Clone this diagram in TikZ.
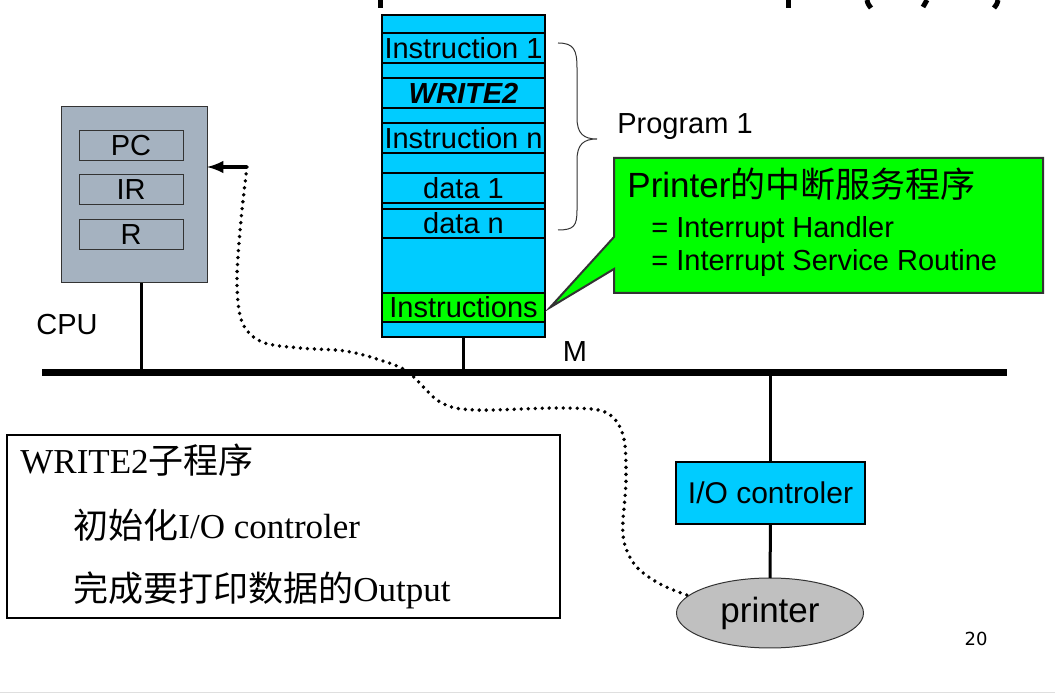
\documentclass[tikz,border=0pt]{standalone}
\usepackage{fontspec}
\setmainfont{Liberation Serif}
\setsansfont{Liberation Sans}
\newfontfamily\cjk{Noto Sans CJK SC}
\newfontfamily\pagefont{DejaVu Sans}
\usetikzlibrary{shapes.geometric,arrows,positioning}
\definecolor{memblue}{RGB}{0,204,255}
\definecolor{isrgreen}{RGB}{0,255,0}
\definecolor{cpugray}{RGB}{165,178,192}
\definecolor{devgray}{RGB}{192,192,192}
\definecolor{edgegray}{RGB}{51,51,51}
\tikzset{
    cell/.style={
        draw,
        fill=memblue,
        line width=0.6pt,
        minimum width=81.5pt,
        inner sep=0pt,
        outer sep=0pt
    },
    reg/.style={
        draw=edgegray,
        fill=cpugray,
        line width=0.5pt,
        minimum width=52pt,
        minimum height=15pt,
        inner sep=0pt,
        outer sep=0pt
    },
    cpubox/.style={
        draw=edgegray,
        fill=cpugray,
        line width=0.5pt,
        minimum width=73pt,
        minimum height=88pt,
        outer sep=0pt
    },
    iobox/.style={
        draw,
        fill=memblue,
        line width=0.6pt,
        minimum width=94.5pt,
        minimum height=31pt,
        inner sep=0pt,
        outer sep=0pt,
        font=\sffamily\fontsize{15}{18}\selectfont
    },
    device/.style={
        draw=edgegray,
        fill=devgray,
        ellipse,
        line width=0.5pt,
        minimum width=93.5pt,
        minimum height=35pt,
        inner sep=0pt,
        outer sep=0pt,
        font=\sffamily\fontsize{17.5}{20}\selectfont
    },
    subbox/.style={
        draw,
        line width=0.6pt,
        minimum width=276.5pt,
        minimum height=91.5pt,
        outer sep=0pt
    },
    subtext/.style={
        anchor=base west,
        inner sep=0pt,
        font=\rmfamily\fontsize{17.5}{20}\selectfont
    },
    isrtext/.style={
        anchor=base west,
        inner sep=0pt,
        font=\sffamily\fontsize{14.5}{17}\selectfont
    },
    bus/.style={line width=3.5pt},
    stem/.style={line width=1.5pt},
    signal/.style={line width=1.9pt, dash pattern=on 0pt off 3.5pt, line cap=round},
    frag/.style={line width=2.5pt}
}

\begin{document}
\begin{tikzpicture}[x=0.5pt, y=-0.5pt, font=\sffamily\fontsize{14.5}{17}\selectfont]
  \useasboundingbox (0,0) rectangle (1055,694);

  \draw[frag] (380,0) -- (380,8);
  \draw[frag] (788,0) -- (788,8);
  \draw[frag] (867,0) .. controls (868,4) .. (871,8);
  \draw[frag] (927,0) -- (923,7);
  \draw[frag] (998,0) .. controls (997,4) .. (994,8);

  \node[cell, minimum height=9pt] (mtop) at (463.5,24) {};
  \node[cell, minimum height=15pt, below=0pt of mtop] (ins1) {Instruction 1};
  \node[cell, minimum height=7.5pt, below=0pt of ins1] (s1) {};
  \node[cell, minimum height=15pt, below=0pt of s1] (write2) {\textbf{\textit{WRITE2}}};
  \node[cell, minimum height=7.5pt, below=0pt of write2] (s2) {};
  \node[cell, minimum height=15pt, below=0pt of s2] (insn) {Instruction n};
  \node[cell, minimum height=10pt, below=0pt of insn] (s3) {};
  \node[cell, minimum height=15pt, below=0pt of s3] (data1) {data 1};
  \node[cell, minimum height=3pt, below=0pt of data1] (s4) {};
  \node[cell, minimum height=14.5pt, below=0pt of s4] (datan) {data n};
  \node[cell, minimum height=27.5pt, below=0pt of datan] (s5) {};
  \node[cell, minimum height=14.5pt, fill=isrgreen, below=0pt of s5] (isrins) {Instructions};
  \node[cell, minimum height=7.5pt, below=0pt of isrins] (mbot) {};

  \draw[edgegray, line width=0.5pt] (558,43) .. controls (574,43) and (577,50) .. (577,68)
    -- (577,118) .. controls (577,134) and (584,139) .. (597,139)
    .. controls (584,139) and (577,144) .. (577,160)
    -- (577,210) .. controls (577,226) and (574,230) .. (558,230);
  \node (prog) at (685,127) {Program 1};

  \coordinate[right=2.5pt of isrins] (tip);
  \filldraw[fill=isrgreen, draw=edgegray, line width=1pt]
    (614,158) -- (1043,158) -- (1043,293) -- (614,293) -- (614,269) -- (tip) -- (614,237) -- cycle;
  \node[isrtext, font=\sffamily\fontsize{17.5}{20}\selectfont] (isrtitle) at (627,197.5) {Printer{\cjk 的中断服务程序}};
  \node[isrtext] (isrline1) at (651,237.5) {= Interrupt Handler};
  \node[isrtext] (isrline2) at (651,270.5) {= Interrupt Service Routine};

  \node[cpubox] (cpu) at (134,195) {};
  \node[reg] (pc) at (131,146) {PC};
  \node[reg, below=7pt of pc] (ir) {IR};
  \node[reg, below=7.5pt of ir] (r) {R};
  \node (cpulabel) at (67,325) {CPU};

  \coordinate (busL) at (42,372.5);
  \coordinate (busR) at (1007,372.5);
  \coordinate (cpuport) at (141,283);
  \draw[stem] (cpuport) -- (cpuport |- busL);
  \draw[stem] (mbot.south) -- (mbot.south |- busL);
  \node (mlabel) at (575,352) {M};

  \node[iobox] (io) at (770.5,493) {I/O controler};
  \node[device] (printer) at (770,613) {printer};
  \draw[stem] (io.north) -- (io.north |- busL);
  \draw[stem] (io.south) -- (printer.north);
  \draw[bus] (busL) -- (busR);

  \coordinate (irq) at (247,167);
  \draw[line width=1.8pt, -latex] (irq) -- (irq -| cpu.east);
  \draw[signal] plot[smooth, tension=0.55] coordinates {(irq) (241,220) (237,280) (242,322) (262,342) (300,348) (345,351) (380,360) (408,372) (440,402) (475,410) (560,408) (605,412) (623,435) (626,480) (623,535) (635,565) (660,584) (printer.168)};

  \node[subbox] (sub) at (283.5,526.5) {};
  \node[subtext] (subtitle) at (20,474) {WRITE2{\cjk 子程序}};
  \node[subtext] (subline1) at (73,538.5) {{\cjk 初始化}I/O controler};
  \node[subtext] (subline2) at (73,602) {{\cjk 完成要打印数据的}Output};

  \node[font=\pagefont\fontsize{9}{11}\selectfont] (pagenum) at (976,639) {20};
  \draw[gray!25, line width=0.5pt] (0,692.5) -- (1055,692.5);
\end{tikzpicture}
\end{document}
